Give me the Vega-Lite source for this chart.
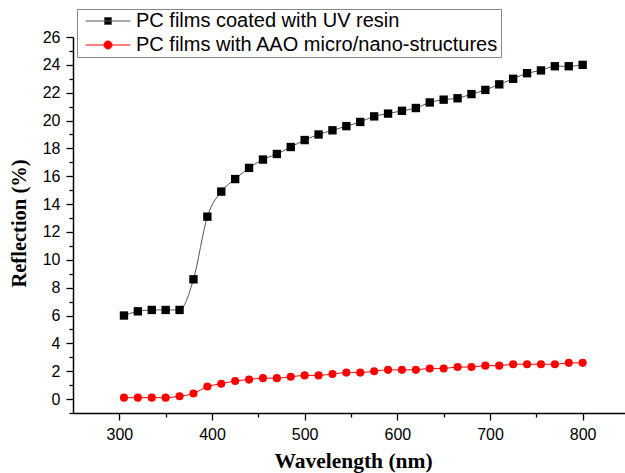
{
  "$schema": "https://vega.github.io/schema/vega-lite/v6.json",
  "autosize": "none",
  "width": 552,
  "height": 376,
  "padding": {"left": 73, "top": 37, "right": 0, "bottom": 60},
  "background": "white",
  "config": {
    "view": {"stroke": null},
    "font": "Liberation Sans",
    "axis": {
      "grid": false,
      "domainColor": "black",
      "domainWidth": 1.5,
      "tickColor": "black",
      "tickWidth": 1.3,
      "labelFont": "Liberation Sans",
      "labelFontSize": 16,
      "labelColor": "black",
      "labelOverlap": false,
      "labelFlush": false,
      "titleFont": "Liberation Serif",
      "titleFontWeight": "bold",
      "titleColor": "black"
    }
  },
  "data": {
    "values": [
      {"wl": 305, "r": 6.0, "s": "PC films coated with UV resin"},
      {"wl": 320, "r": 6.3, "s": "PC films coated with UV resin"},
      {"wl": 335, "r": 6.4, "s": "PC films coated with UV resin"},
      {"wl": 350, "r": 6.4, "s": "PC films coated with UV resin"},
      {"wl": 365, "r": 6.4, "s": "PC films coated with UV resin"},
      {"wl": 380, "r": 8.6, "s": "PC films coated with UV resin"},
      {"wl": 395, "r": 13.1, "s": "PC films coated with UV resin"},
      {"wl": 410, "r": 14.9, "s": "PC films coated with UV resin"},
      {"wl": 425, "r": 15.8, "s": "PC films coated with UV resin"},
      {"wl": 440, "r": 16.6, "s": "PC films coated with UV resin"},
      {"wl": 455, "r": 17.2, "s": "PC films coated with UV resin"},
      {"wl": 470, "r": 17.6, "s": "PC films coated with UV resin"},
      {"wl": 485, "r": 18.1, "s": "PC films coated with UV resin"},
      {"wl": 500, "r": 18.6, "s": "PC films coated with UV resin"},
      {"wl": 515, "r": 19.0, "s": "PC films coated with UV resin"},
      {"wl": 530, "r": 19.3, "s": "PC films coated with UV resin"},
      {"wl": 545, "r": 19.6, "s": "PC films coated with UV resin"},
      {"wl": 560, "r": 19.9, "s": "PC films coated with UV resin"},
      {"wl": 575, "r": 20.3, "s": "PC films coated with UV resin"},
      {"wl": 590, "r": 20.5, "s": "PC films coated with UV resin"},
      {"wl": 605, "r": 20.7, "s": "PC films coated with UV resin"},
      {"wl": 620, "r": 20.9, "s": "PC films coated with UV resin"},
      {"wl": 635, "r": 21.3, "s": "PC films coated with UV resin"},
      {"wl": 650, "r": 21.5, "s": "PC films coated with UV resin"},
      {"wl": 665, "r": 21.6, "s": "PC films coated with UV resin"},
      {"wl": 680, "r": 21.9, "s": "PC films coated with UV resin"},
      {"wl": 695, "r": 22.2, "s": "PC films coated with UV resin"},
      {"wl": 710, "r": 22.6, "s": "PC films coated with UV resin"},
      {"wl": 725, "r": 23.0, "s": "PC films coated with UV resin"},
      {"wl": 740, "r": 23.4, "s": "PC films coated with UV resin"},
      {"wl": 755, "r": 23.6, "s": "PC films coated with UV resin"},
      {"wl": 770, "r": 23.9, "s": "PC films coated with UV resin"},
      {"wl": 785, "r": 23.9, "s": "PC films coated with UV resin"},
      {"wl": 800, "r": 24.0, "s": "PC films coated with UV resin"},
      {"wl": 305, "r": 0.1, "s": "PC films with AAO micro/nano-structures"},
      {"wl": 320, "r": 0.1, "s": "PC films with AAO micro/nano-structures"},
      {"wl": 335, "r": 0.1, "s": "PC films with AAO micro/nano-structures"},
      {"wl": 350, "r": 0.1, "s": "PC films with AAO micro/nano-structures"},
      {"wl": 365, "r": 0.2, "s": "PC films with AAO micro/nano-structures"},
      {"wl": 380, "r": 0.4, "s": "PC films with AAO micro/nano-structures"},
      {"wl": 395, "r": 0.9, "s": "PC films with AAO micro/nano-structures"},
      {"wl": 410, "r": 1.1, "s": "PC films with AAO micro/nano-structures"},
      {"wl": 425, "r": 1.3, "s": "PC films with AAO micro/nano-structures"},
      {"wl": 440, "r": 1.4, "s": "PC films with AAO micro/nano-structures"},
      {"wl": 455, "r": 1.5, "s": "PC films with AAO micro/nano-structures"},
      {"wl": 470, "r": 1.5, "s": "PC films with AAO micro/nano-structures"},
      {"wl": 485, "r": 1.6, "s": "PC films with AAO micro/nano-structures"},
      {"wl": 500, "r": 1.7, "s": "PC films with AAO micro/nano-structures"},
      {"wl": 515, "r": 1.7, "s": "PC films with AAO micro/nano-structures"},
      {"wl": 530, "r": 1.8, "s": "PC films with AAO micro/nano-structures"},
      {"wl": 545, "r": 1.9, "s": "PC films with AAO micro/nano-structures"},
      {"wl": 560, "r": 1.9, "s": "PC films with AAO micro/nano-structures"},
      {"wl": 575, "r": 2.0, "s": "PC films with AAO micro/nano-structures"},
      {"wl": 590, "r": 2.1, "s": "PC films with AAO micro/nano-structures"},
      {"wl": 605, "r": 2.1, "s": "PC films with AAO micro/nano-structures"},
      {"wl": 620, "r": 2.1, "s": "PC films with AAO micro/nano-structures"},
      {"wl": 635, "r": 2.2, "s": "PC films with AAO micro/nano-structures"},
      {"wl": 650, "r": 2.2, "s": "PC films with AAO micro/nano-structures"},
      {"wl": 665, "r": 2.3, "s": "PC films with AAO micro/nano-structures"},
      {"wl": 680, "r": 2.3, "s": "PC films with AAO micro/nano-structures"},
      {"wl": 695, "r": 2.4, "s": "PC films with AAO micro/nano-structures"},
      {"wl": 710, "r": 2.4, "s": "PC films with AAO micro/nano-structures"},
      {"wl": 725, "r": 2.5, "s": "PC films with AAO micro/nano-structures"},
      {"wl": 740, "r": 2.5, "s": "PC films with AAO micro/nano-structures"},
      {"wl": 755, "r": 2.5, "s": "PC films with AAO micro/nano-structures"},
      {"wl": 770, "r": 2.5, "s": "PC films with AAO micro/nano-structures"},
      {"wl": 785, "r": 2.6, "s": "PC films with AAO micro/nano-structures"},
      {"wl": 800, "r": 2.6, "s": "PC films with AAO micro/nano-structures"}
    ]
  },
  "encoding": {
    "x": {
      "field": "wl", "type": "quantitative",
      "scale": {"domain": [250, 845.7], "nice": false, "zero": false},
      "axis": {
        "title": "Wavelength (nm)",
        "titleFontSize": 21.5,
        "values": [300, 350, 400, 450, 500, 550, 600, 650, 700, 750, 800],
        "labelExpr": "datum.value % 100 == 0 ? datum.label : ''",
        "tickSize": {"condition": {"test": "datum.value % 100 == 0", "value": 7}, "value": 4},
        "labelPadding": 6,
        "titleX": 280,
        "titleY": 48,
        "titleBaseline": "middle"
      }
    },
    "y": {
      "field": "r", "type": "quantitative",
      "scale": {"domain": [-1, 26], "nice": false, "zero": false},
      "axis": {
        "title": "Reflection (%)",
        "titleFontSize": 20.5,
        "values": [-1, 0, 1, 2, 3, 4, 5, 6, 7, 8, 9, 10, 11, 12, 13, 14, 15, 16, 17, 18, 19, 20, 21, 22, 23, 24, 25, 26],
        "labelExpr": "datum.value >= 0 && datum.value % 2 == 0 ? datum.label : ''",
        "tickSize": {"condition": {"test": "datum.value % 2 == 0", "value": 7}, "value": 4},
        "labelPadding": 6,
        "titleX": -54,
        "titleY": 186,
        "titleBaseline": "middle",
        "titleAlign": "center"
      }
    }
  },
  "layer": [
    {
      "mark": {"type": "line", "strokeWidth": 1, "interpolate": "monotone"},
      "encoding": {
        "color": {
          "field": "s", "type": "nominal",
          "scale": {"domain": ["PC films coated with UV resin", "PC films with AAO micro/nano-structures"], "range": ["#555555", "#ff0000"]},
          "legend": {
            "title": null,
            "orient": "none",
            "legendX": 4,
            "legendY": -28,
            "padding": 2,
            "fillColor": "white",
            "strokeColor": "#888888",
            "cornerRadius": 0,
            "labelFont": "Liberation Sans",
            "labelFontSize": 20,
            "labelColor": "black",
            "labelLimit": 500,
            "symbolSize": 49,
            "symbolOffset": 19,
            "symbolStrokeWidth": 1,
            "symbolOpacity": 1,
            "labelOffset": 18,
            "rowPadding": 4,
            "encode": {
              "symbols": {
                "update": {
                  "shape": {"signal": "datum.value == 'PC films coated with UV resin' ? 'M-6.4,0H6.4M-1,-1H1V1H-1Z' : 'M-6.4,0H6.4M-1.15,0A1.15,1.15 0 1,1 1.15,0A1.15,1.15 0 1,1 -1.15,0Z'"},
                  "fill": {"signal": "datum.value == 'PC films coated with UV resin' ? 'black' : '#ff0000'"},
                  "stroke": {"signal": "datum.value == 'PC films coated with UV resin' ? '#666666' : '#ff0000'"},
                  "strokeWidth": {"value": 1},
                  "strokeOpacity": {"value": 1},
                  "size": {"value": 49},
                  "opacity": {"value": 1},
                  "fillOpacity": {"value": 1}
                }
              }
            }
          }
        }
      }
    },
    {
      "transform": [{"filter": "datum.s == 'PC films coated with UV resin'"}],
      "mark": {"type": "point", "filled": true, "opacity": 1, "size": 70, "shape": "square", "color": "#000000"}
    },
    {
      "transform": [{"filter": "datum.s != 'PC films coated with UV resin'"}],
      "mark": {"type": "point", "filled": true, "opacity": 1, "size": 66, "shape": "circle", "color": "#ff0000"}
    }
  ]
}
